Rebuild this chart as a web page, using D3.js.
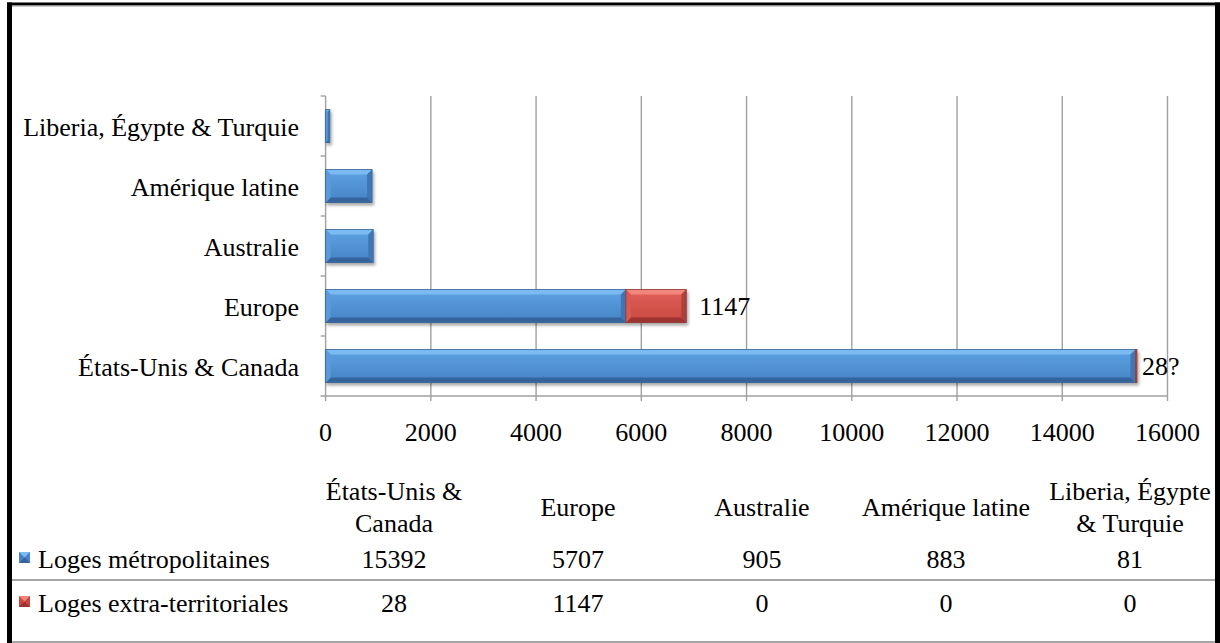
<!DOCTYPE html>
<html>
<head>
<meta charset="utf-8">
<script src="https://cdn.jsdelivr.net/npm/d3@7/dist/d3.min.js"></script>
</head>
<body style="margin:0;padding:0;background:#fff">
<svg id="chart" width="1220" height="643" style="display:block"></svg>
<script>
// Regions, listed from the bottom bar upwards (same order as the data table columns)
const categories = ["États-Unis & Canada", "Europe", "Australie", "Amérique latine", "Liberia, Égypte & Turquie"];
// Column headings of the data table, broken over lines
const tableHeaders = [["États-Unis &", "Canada"], ["Europe"], ["Australie"], ["Amérique latine"], ["Liberia, Égypte", "& Turquie"]];
const seriesNames = ["Loges métropolitaines", "Loges extra-territoriales"];
const metropolitaines = [15392, 5707, 905, 883, 81];
const extraTerritoriales = [28, 1147, 0, 0, 0];
// Value labels shown next to the extra-territorial segments (suffix kept as printed)
const extraLabelSuffix = ["?", "", "", "", ""];
const xTicks = [0, 2000, 4000, 6000, 8000, 10000, 12000, 14000, 16000];

const svg = d3.select("#chart");
const W = 1220, H = 643;
const FS = 26;
const FONT = "Liberation Serif";

// Every text element gets the serif face and size set directly
function label(sel) {
  return sel.attr("font-family", FONT).attr("font-size", FS).attr("fill", "#000");
}

const palettes = [
  { top: "#7cbaf2", faceA: "#5ea3e4", faceB: "#4683c5", bottom: "#35649c", left: "#5a9ad8", right: "#3f76b3", edge: "#3a6899" },
  { top: "#f2867c", faceA: "#e2625a", faceB: "#c8473f", bottom: "#9c3430", left: "#d85a52", right: "#b0403a", edge: "#8e3a36" }
];

const defs = svg.append("defs");
palettes.forEach((p, i) => {
  const g = defs.append("linearGradient").attr("id", "face" + i)
    .attr("x1", 0).attr("y1", 0).attr("x2", 0).attr("y2", 1);
  g.append("stop").attr("offset", "0%").attr("stop-color", p.faceA);
  g.append("stop").attr("offset", "100%").attr("stop-color", p.faceB);
});
const sh = defs.append("filter").attr("id", "shadow")
  .attr("x", "-5%").attr("y", "-20%").attr("width", "115%").attr("height", "160%");
sh.append("feDropShadow").attr("dx", 1.5).attr("dy", 2.5).attr("stdDeviation", 1.8)
  .attr("flood-color", "#000").attr("flood-opacity", 0.35);

// Scales
const x = d3.scaleLinear().domain([0, 16000]).range([325.6, 1167.5]);
const y = d3.scaleBand().domain(categories.slice().reverse()).range([96, 396])
  .paddingInner(0.45).paddingOuter(0.225);

// Gridlines
const grid = svg.append("g");
grid.selectAll("line").data(xTicks.slice(1)).join("line")
  .attr("x1", d => x(d)).attr("x2", d => x(d))
  .attr("y1", 96).attr("y2", 401)
  .attr("stroke", "#a0a0a0").attr("stroke-width", 1.4);

// Axis lines
svg.append("line").attr("x1", x(0)).attr("x2", x(0)).attr("y1", 96).attr("y2", 401)
  .attr("stroke", "#a0a0a0").attr("stroke-width", 1.4);
svg.append("line").attr("x1", x(0) - 5).attr("x2", x(16000)).attr("y1", 396).attr("y2", 396)
  .attr("stroke", "#a0a0a0").attr("stroke-width", 1.4);
svg.selectAll(".ytick").data(categories).join("line")
  .attr("x1", x(0) - 5).attr("x2", x(0))
  .attr("y1", d => y(d) - y.step() * 0.225).attr("y2", d => y(d) - y.step() * 0.225)
  .attr("stroke", "#a0a0a0").attr("stroke-width", 1.4);

// Bevelled bar segment
function bevelBar(g, x0, x1, y0, y1, p, pi) {
  const w = x1 - x0, h = y1 - y0;
  if (w <= 0) return;
  const b = Math.min(5, w / 2, h / 2);
  const seg = g.append("g");
  seg.append("rect").attr("x", x0).attr("y", y0).attr("width", w).attr("height", h)
    .attr("fill", `url(#face${pi})`);
  const poly = (pts, fill) => seg.append("polygon")
    .attr("points", pts.map(q => q.join(",")).join(" ")).attr("fill", fill);
  poly([[x0, y0], [x1, y0], [x1 - b, y0 + b], [x0 + b, y0 + b]], p.top);
  poly([[x0, y1], [x1, y1], [x1 - b, y1 - b], [x0 + b, y1 - b]], p.bottom);
  poly([[x0, y0], [x0 + b, y0 + b], [x0 + b, y1 - b], [x0, y1]], p.left);
  poly([[x1, y0], [x1 - b, y0 + b], [x1 - b, y1 - b], [x1, y1]], p.right);
  seg.append("rect").attr("x", x0).attr("y", y0).attr("width", w).attr("height", h)
    .attr("fill", "none").attr("stroke", p.edge).attr("stroke-width", 0.8);
}

const bars = svg.append("g").attr("filter", "url(#shadow)");
categories.forEach((c, i) => {
  const y0 = y(c), y1 = y(c) + y.bandwidth();
  const m = metropolitaines[i], e = extraTerritoriales[i];
  bevelBar(bars, x(0), x(m), y0, y1, palettes[0], 0);
  if (e > 0) bevelBar(bars, x(m), x(m + e), y0, y1, palettes[1], 1);
});

// Value labels for the extra-territorial segments
const labelGap = { "États-Unis & Canada": 5, "Europe": 13 };
categories.forEach((c, i) => {
  const e = extraTerritoriales[i];
  if (e <= 0) return;
  label(svg.append("text"))
    .attr("x", x(metropolitaines[i] + e) + (labelGap[c] || 6))
    .attr("y", y(c) + y.bandwidth() / 2 + 9)
    .text(e + extraLabelSuffix[i]);
});

// Category labels
label(svg.selectAll(".cat").data(categories).join("text"))
  .attr("x", 299).attr("y", d => y(d) + y.bandwidth() / 2 + 9.5)
  .attr("text-anchor", "end")
  .text(d => d);

// X tick labels
label(svg.selectAll(".xt").data(xTicks).join("text"))
  .attr("x", d => x(d)).attr("y", 440.5)
  .attr("text-anchor", "middle")
  .text(d => d);

// Data table
const colX = d3.scaleBand().domain(categories).range([302, 1222]);
const tbl = svg.append("g");
tableHeaders.forEach((lines, i) => {
  const cx = colX(categories[i]) + colX.bandwidth() / 2;
  const base = lines.length === 2 ? 500 : 515.5;
  lines.forEach((ln, k) => {
    label(tbl.append("text")).attr("x", cx).attr("y", base + k * 32)
      .attr("text-anchor", "middle").text(ln);
  });
});
const rows = [metropolitaines, extraTerritoriales];
const rowBase = [568, 612];
rows.forEach((vals, r) => {
  const p = palettes[r];
  const kx = 19, ky = rowBase[r] - 16, ks = 11;
  const key = tbl.append("g");
  key.append("rect").attr("x", kx).attr("y", ky).attr("width", ks).attr("height", ks).attr("fill", p.faceB);
  key.append("polygon").attr("points", `${kx},${ky} ${kx + ks},${ky} ${kx + ks / 2},${ky + ks / 2}`).attr("fill", p.top);
  key.append("polygon").attr("points", `${kx},${ky + ks} ${kx + ks},${ky + ks} ${kx + ks / 2},${ky + ks / 2}`).attr("fill", p.bottom);
  label(tbl.append("text")).attr("x", 38).attr("y", rowBase[r]).text(seriesNames[r]);
  vals.forEach((v, i) => {
    label(tbl.append("text")).attr("x", colX(categories[i]) + colX.bandwidth() / 2).attr("y", rowBase[r])
      .attr("text-anchor", "middle").text(v);
  });
});
tbl.append("line").attr("x1", 12).attr("x2", 1215).attr("y1", 580).attr("y2", 580)
  .attr("stroke", "#a6a6a6").attr("stroke-width", 2);
tbl.append("line").attr("x1", 12).attr("x2", 1215).attr("y1", 642).attr("y2", 642)
  .attr("stroke", "#a6a6a6").attr("stroke-width", 2);

// Outer frame
svg.append("rect").attr("x", 7).attr("y", 2.5).attr("width", 1213).attr("height", 3).attr("fill", "#000");
svg.append("line").attr("x1", 12).attr("x2", 1215).attr("y1", 6).attr("y2", 6).attr("stroke", "#9a9a9a").attr("stroke-width", 1);
svg.append("rect").attr("x", 7).attr("y", 2.5).attr("width", 5).attr("height", H).attr("fill", "#000");
svg.append("rect").attr("x", 1215).attr("y", 2.5).attr("width", 5).attr("height", H).attr("fill", "#000");
</script>
</body>
</html>
